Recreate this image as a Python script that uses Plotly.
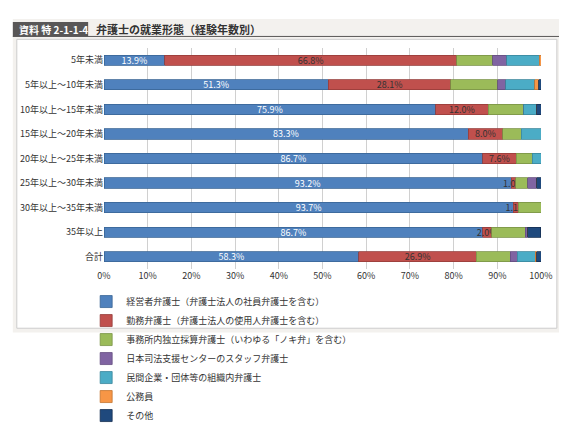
import plotly.graph_objects as go

categories = ["5年未満", "5年以上～10年未満", "10年以上～15年未満", "15年以上～20年未満",
              "20年以上～25年未満", "25年以上～30年未満", "30年以上～35年未満", "35年以上", "合計"]
names = ["経営者弁護士（弁護士法人の社員弁護士を含む）", "勤務弁護士（弁護士法人の使用人弁護士を含む）",
         "事務所内独立採算弁護士（いわゆる「ノキ弁」を含む）", "日本司法支援センターのスタッフ弁護士",
         "民間企業・団体等の組織内弁護士", "公務員", "その他"]
keiei   = [13.9, 51.3, 75.9, 83.3, 86.7, 93.2, 93.7, 86.7, 58.3]
kinmu   = [66.8, 28.1, 12.0, 8.0, 7.6, 1.0, 1.1, 2.0, 26.9]
noki    = [8.3, 10.7, 8.2, 4.2, 3.7, 2.8, 5.2, 7.7, 7.8]
houterasu = [3.2, 1.8, 0.0, 0.0, 0.0, 2.0, 0.0, 0.6, 1.6]
soshiki = [7.4, 6.7, 2.9, 4.5, 2.0, 0.0, 0.0, 0.0, 4.1]
koumuin = [0.4, 0.9, 0.0, 0.0, 0.0, 0.0, 0.0, 0.0, 0.3]
sonota  = [0.0, 0.5, 1.0, 0.0, 0.0, 1.0, 0.0, 2.9, 1.0]
series = [keiei, kinmu, noki, houterasu, soshiki, koumuin, sonota]
colors = ["#4f81bd", "#c0504d", "#9bbb59", "#8064a2", "#4bacc6", "#f79646", "#1f497d"]
lines = ["#3a6596", "#963c3a", "#7a9446", "#644e80", "#3a879c", "#c4752f", "#152f52"]

FONT = "Noto Sans CJK JP"
def px(x): return (x - 92) / 441
def py(y): return (346 - y) / 306

fig = go.Figure()
for i, (n, v) in enumerate(zip(names, series)):
    kw = {}
    if i < 2:
        kw = dict(text=[f"{x:.1f}%" for x in v], textposition="inside", insidetextanchor="middle",
                  textangle=0, constraintext="none",
                  textfont=dict(size=9, color="white" if i == 0 else "#333333", family=FONT))
    fig.add_trace(go.Bar(y=categories, x=v, name=n, orientation="h",
                         marker=dict(color=colors[i], line=dict(color=lines[i], width=0.8)),
                         hoverinfo="skip", **kw))

fig.update_layout(
    barmode="stack", width=567, height=434, bargap=0.58,
    margin=dict(l=92, r=34, t=40, b=88),
    paper_bgcolor="white", plot_bgcolor="white",
    font=dict(family=FONT, size=9, color="#333333"),
    uniformtext=dict(minsize=9, mode="show"),
    xaxis=dict(range=[0, 100], dtick=10, ticksuffix="%", showgrid=True, gridcolor="#d0d0d0",
               zeroline=False, tickfont=dict(size=9), fixedrange=True, ticks="", showline=False),
    yaxis=dict(autorange="reversed", tickfont=dict(size=9), ticks="", ticklen=0, showgrid=False),
    legend=dict(orientation="h", x=px(74), y=py(371), xanchor="left", yanchor="top",
                entrywidth=225, entrywidthmode="pixels", font=dict(size=9, family=FONT),
                itemwidth=30, traceorder="normal", tracegroupgap=0, bgcolor="rgba(0,0,0,0)"),
    shapes=[
        dict(type="rect", xref="paper", yref="paper", x0=px(0), x1=px(567), y0=py(434), y1=py(0),
             fillcolor="#f3f1ee", line=dict(width=0), layer="below"),
        dict(type="rect", xref="paper", yref="paper", x0=px(4), x1=px(549), y0=py(428), y1=py(28),
             fillcolor="white", line=dict(color="#cccccc", width=1), layer="below"),
        dict(type="rect", xref="paper", yref="paper", x0=px(0), x1=px(76), y0=py(24), y1=py(4),
             fillcolor="#595757", line=dict(width=0), layer="below"),
        dict(type="line", xref="paper", yref="paper", x0=px(0), x1=px(567), y0=py(24), y1=py(24),
             line=dict(color="#595757", width=1)),
    ],
    annotations=[
        dict(text="<b>資料 特 2-1-1-4</b>", xref="paper", yref="paper", x=px(4), y=py(14),
             xanchor="left", yanchor="middle", showarrow=False, font=dict(size=10, color="white", family=FONT)),
        dict(text="<b>弁護士の就業形態（経験年数別）</b>", xref="paper", yref="paper", x=px(82), y=py(14),
             xanchor="left", yanchor="middle", showarrow=False, font=dict(size=11, color="#333333", family=FONT)),
    ],
)
fig.write_html("out.html")
